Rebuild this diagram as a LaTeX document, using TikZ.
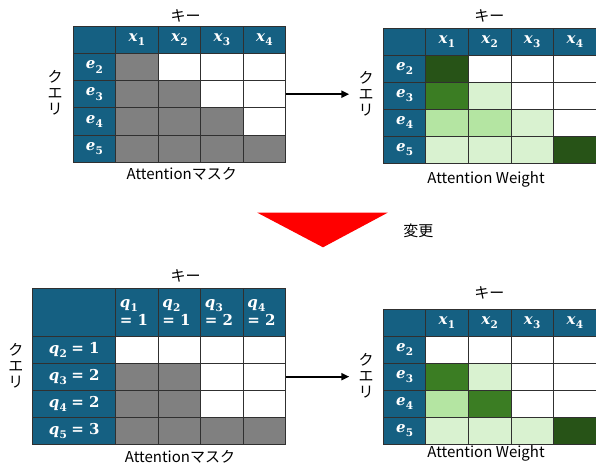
\documentclass[tikz,border=0pt]{standalone}
\usepackage{fontspec}
\usetikzlibrary{arrows.meta}
\newfontfamily\jpfont{Noto Sans CJK JP}
\newfontfamily\mfont{DejaVu Serif}
\newcommand\mv[2]{{\mfont\bfseries\itshape #1}\kern0.3pt\raisebox{-0.28em}{\mfont\bfseries\fontsize{10.5}{10.5}\selectfont #2}}
\newcommand\mn[1]{{\mfont\bfseries #1}}
\definecolor{hdrblue}{HTML}{156082}
\definecolor{maskgray}{HTML}{808080}
\definecolor{gdark}{HTML}{275317}
\definecolor{gmid}{HTML}{3B7D23}
\definecolor{gpale}{HTML}{B4E5A2}
\definecolor{glight}{HTML}{D9F2D0}
\definecolor{gridline}{HTML}{303030}
\newcommand\cellgrid[6]{%
  \foreach \rowfills [count=\i] in {#6} {
    \foreach \f [count=\j] in \rowfills {
      \node[cellbox, fill=\f, minimum width=#3pt, minimum height=#5pt]
        (#1-\i-\j) at ({#2+(\j-0.5)*#3}, {#4+(\i-0.5)*#5}) {};
    }
  }%
}
\begin{document}
\begin{tikzpicture}[x=1pt, y=-1pt,
  cellbox/.style={draw=gridline, line width=0.6pt, inner sep=0pt, outer sep=0pt},
  hdr/.style={cellbox, fill=hdrblue, text=white, font=\fontsize{15}{15}\selectfont},
  hdrtwo/.style={hdr, text width=34pt, align=left, font=\fontsize{15}{18}\selectfont},
  lbl/.style={font=\jpfont\fontsize{15}{16}\selectfont, inner sep=0pt},
  vlbl/.style={lbl, align=center},
  arr/.style={-{Triangle[length=8pt,width=7pt]}, line width=2pt},
]
\useasboundingbox (0,0) rectangle (596,465);

% ---------- top-left: attention mask ----------
\node[hdr, minimum width=42.7pt, minimum height=27.3pt] (tl-0-0) at (94.35,39.65) {};
\foreach \j in {1,...,4}
  \node[hdr, minimum width=42.5pt, minimum height=27.3pt] (tl-0-\j) at ({115.7+(\j-0.5)*42.5},39.65) {\mv{x}{\j}};
\foreach \i/\k in {1/2,2/3,3/4,4/5}
  \node[hdr, minimum width=42.7pt, minimum height=27.25pt] (tl-\i-0) at (94.35,{53.3+(\i-0.5)*27.25}) {\mv{e}{\k}};
\cellgrid{tl}{115.7}{42.5}{53.3}{27.25}{{maskgray,white,white,white},{maskgray,maskgray,white,white},{maskgray,maskgray,maskgray,white},{maskgray,maskgray,maskgray,maskgray}}
\node[lbl] (tlkey) at (185.7,15.7) {キー};
\node[vlbl] (tlq) at (55,93) {ク\\エ\\リ};
\node[lbl] (tlcap) at (181.7,174) {Attentionマスク};

% ---------- top-right: attention weight ----------
\node[hdr, minimum width=42pt, minimum height=26.7pt] (tr-0-0) at (404.7,41.65) {};
\foreach \j in {1,...,4}
  \node[hdr, minimum width=42.6pt, minimum height=26.7pt] (tr-0-\j) at ({425.7+(\j-0.5)*42.6},41.65) {\mv{x}{\j}};
\foreach \i/\k in {1/2,2/3,3/4,4/5}
  \node[hdr, minimum width=42pt, minimum height=27.1pt] (tr-\i-0) at (404.7,{55+(\i-0.5)*27.1}) {\mv{e}{\k}};
\cellgrid{tr}{425.7}{42.6}{55}{27.1}{{gdark,white,white,white},{gmid,glight,white,white},{gpale,gpale,glight,white},{glight,glight,glight,gdark}}
\node[lbl] (trkey) at (489.3,15.7) {キー};
\node[vlbl] (trq) at (366,94) {ク\\エ\\リ};
\node[lbl] (trcap) at (486,179) {Attention Weight};

\draw[arr, shorten >=9pt] (tl-2-4.east) -- (tl-2-4.east -| trq.west);

% ---------- change marker ----------
\fill[red] (257.3,212.7) -- (387.7,212.7) -- (323,247.3) -- cycle;
\node[lbl] (chg) at (418.3,230.7) {変更};

% ---------- bottom-left: new attention mask ----------
\node[hdr, minimum width=83pt, minimum height=47.7pt] (bl-0-0) at (74.2,312.15) {};
\foreach \j/\v in {1/1,2/1,3/2,4/2}
  \node[hdrtwo, minimum width=42.5pt, minimum height=47.7pt] (bl-0-\j) at ({115.7+(\j-0.5)*42.5},312.15) {\mv{q}{\j}\\\mn{= \v}};
\foreach \i/\k/\v in {1/2/1,2/3/2,3/4/2,4/5/3}
  \node[hdr, minimum width=83pt, minimum height=27.1pt] (bl-\i-0) at (74.2,{336+(\i-0.5)*27.1}) {\mv{q}{\k}\ \mn{= \v}};
\cellgrid{bl}{115.7}{42.5}{336}{27.1}{{white,white,white,white},{maskgray,maskgray,white,white},{maskgray,maskgray,white,white},{maskgray,maskgray,maskgray,maskgray}}
\node[lbl] (blkey) at (185.7,275.7) {キー};
\node[vlbl] (blq) at (16,366) {ク\\エ\\リ};
\node[lbl] (blcap) at (180,456.7) {Attentionマスク};

% ---------- bottom-right: new attention weight ----------
\node[hdr, minimum width=42pt, minimum height=27.3pt] (br-0-0) at (404.7,322.65) {};
\foreach \j in {1,...,4}
  \node[hdr, minimum width=42.6pt, minimum height=27.3pt] (br-0-\j) at ({425.7+(\j-0.5)*42.6},322.65) {\mv{x}{\j}};
\foreach \i/\k in {1/2,2/3,3/4,4/5}
  \node[hdr, minimum width=42pt, minimum height=27pt] (br-\i-0) at (404.7,{336.3+(\i-0.5)*27}) {\mv{e}{\k}};
\cellgrid{br}{425.7}{42.6}{336.3}{27}{{white,white,white,white},{gmid,glight,white,white},{gpale,gmid,white,white},{glight,glight,glight,gdark}}
\node[lbl] (brkey) at (489.3,293.3) {キー};
\node[vlbl] (brq) at (366,376) {ク\\エ\\リ};
\node[lbl] (brcap) at (486,453.3) {Attention Weight};

\draw[arr, shorten >=9pt] (bl-2-4.east) -- (bl-2-4.east -| brq.west);
\end{tikzpicture}
\end{document}
